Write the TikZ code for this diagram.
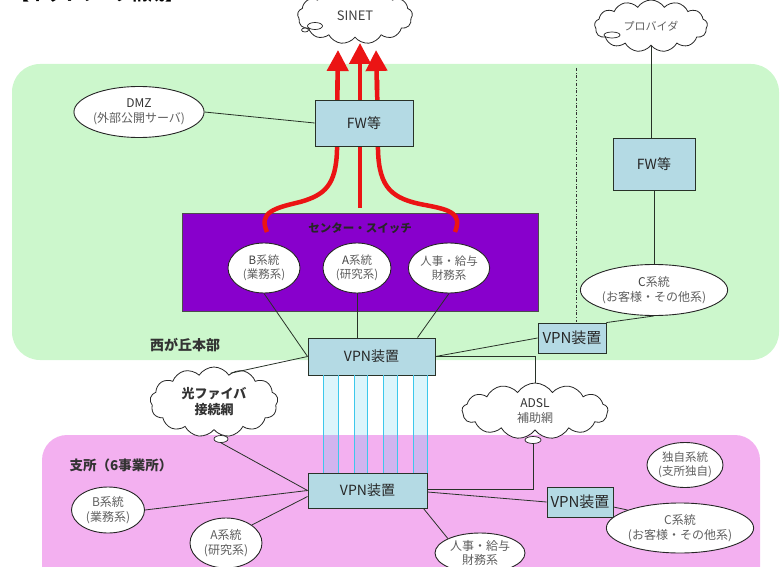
\documentclass[tikz,border=0pt]{standalone}
\usepackage{fontspec}
\setmainfont{Noto Sans CJK JP}
\usetikzlibrary{shapes.geometric,shapes.symbols,arrows.meta,calc}
\definecolor{greenbg}{RGB}{204,247,204}
\definecolor{pinkbg}{RGB}{243,176,240}
\definecolor{purp}{RGB}{136,0,204}
\definecolor{boxblue}{RGB}{180,218,228}
\definecolor{cyanl}{RGB}{60,200,235}
\definecolor{txtgray}{RGB}{95,95,95}
\definecolor{lnc}{RGB}{40,50,40}
\definecolor{redarr}{RGB}{235,20,20}
\begin{document}
\begin{tikzpicture}[x=1pt,y=-1pt,
  sys/.style={ellipse, draw=black!85, fill=white, line width=0.9pt, inner sep=0pt,
    text=txtgray, font=\fontsize{12}{14.5}\selectfont, align=center},
  swsys/.style={sys, font=\fontsize{11.5}{14}\selectfont},
  dev/.style={rectangle, draw=lnc, fill=boxblue, line width=0.9pt, inner sep=0pt,
    text=black!85, font=\fontsize{14}{16}\selectfont},
  cloudn/.style={cloud, cloud puffs=13, cloud puff arc=115, cloud ignores aspect,
    draw=black!85, fill=white, line width=0.8pt, inner sep=0pt, align=center},
  tailn/.style={ellipse, draw=black!85, fill=white, line width=0.7pt, inner sep=0pt},
  conn/.style={draw=lnc, line width=0.8pt},
  redline/.style={draw=redarr, line width=4.5pt},
  redarrow/.style={redline, -{Triangle[width=21pt,length=21pt]}},
  bluelink/.style={draw=cyanl, line width=0.8pt},
  region/.style={font=\fontsize{14}{16}\selectfont\bfseries, text=black!80}
]
\useasboundingbox (0,0) rectangle (781,567);

% regions
\fill[greenbg, rounded corners=28pt] (12,64) rectangle (779,360);
\fill[pinkbg, rounded corners=25pt] (42,435) rectangle (760,600);

% title (cut off at top, as in the reference)
\node[anchor=base west, inner sep=0pt, font=\fontsize{17}{20}\selectfont\bfseries] (title) at (12,1) {【ネットワーク構成】};

% clouds
\node[cloudn, minimum width=115pt, minimum height=56pt, font=\fontsize{13}{15}\selectfont, text=black!75] (sinet) at (355,16) {SINET};
\node[tailn, minimum width=15pt, minimum height=7pt] (stail) at (315,26) {};
\node[tailn, minimum width=7pt, minimum height=4pt] (stail2) at (305,30) {};

\node[cloudn, minimum width=113pt, minimum height=52pt, font=\fontsize{11}{13}\selectfont, text=txtgray] (prov) at (651,26) {プロバイダ};
\node[tailn, minimum width=16pt, minimum height=6pt] (ptail) at (612,35) {};

\node[cloudn, minimum width=128pt, minimum height=70pt, font=\fontsize{13}{16}\selectfont\bfseries, text=black!80] (fiber) at (214,402) {光ファイバ\\接続網};
\node[tailn, minimum width=14pt, minimum height=7pt] (ftail) at (221,439) {};

\node[cloudn, minimum width=146pt, minimum height=56pt, font=\fontsize{12}{15}\selectfont, text=black!80] (adsl) at (535,411) {ADSL\\{\color{txtgray}補助網}};
\node[tailn, minimum width=16pt, minimum height=7pt] (atail) at (533,440) {};

% center switch
\node[rectangle, draw=black!70, fill=purp, line width=0.8pt, minimum width=356pt, minimum height=98pt] (sw) at (360,262) {};
\node[font=\fontsize{11.5}{13}\selectfont\bfseries, text=black!85] (swl) at (360,228) {センター・スイッチ};

% red arrows
\coordinate (rl0) at (267,232);
\coordinate (rl1) at (338,50);
\coordinate (rm0) at (360,208);
\coordinate (rm1) at (360,43);
\coordinate (rr0) at (455,232);
\coordinate (rr1) at (376,50);
\draw[redline] (rl0) .. controls (258,212) and (275,208) .. (300,202) .. controls (325,195) and (336,185) .. (337,150) -- (337.5,80);
\draw[redline] (rr0) .. controls (462,214) and (452,210) .. (425,205) .. controls (392,199) and (379,188) .. (378,150) -- (377,80);
\draw[redarrow] (337.5,90) -- (rl1);
\draw[redarrow] (377,90) -- (rr1);
\draw[redarrow] (rm0) -- (rm1);

% devices
\node[dev, minimum width=98pt, minimum height=46pt, font=\fontsize{14}{16}\selectfont] (fw1) at (364,123) {FW等};
\node[dev, minimum width=82pt, minimum height=52pt, font=\fontsize{14}{16}\selectfont] (fw2) at (654,164) {FW等};
\node[dev, minimum width=127pt, minimum height=37pt] (vpn1) at (371.5,356.5) {VPN装置};
\node[dev, minimum width=119pt, minimum height=35pt] (vpn2) at (367.5,490.5) {VPN装置};
\node[dev, minimum width=68pt, minimum height=30pt, font=\fontsize{15}{16}\selectfont] (vpns1) at (572,338) {VPN装置};
\node[dev, minimum width=66pt, minimum height=30pt, font=\fontsize{15}{16}\selectfont] (vpns2) at (580,502) {VPN装置};

% systems
\node[sys, minimum width=122pt, minimum height=51pt] (dmz) at (139,112) {{\color{black!80}DMZ}\\(外部公開サーバ)};
\node[swsys, minimum width=72pt, minimum height=50pt] (bsw) at (264,268) {{\color{black!75}B}系統\\(業務系)};
\node[swsys, minimum width=68pt, minimum height=50pt] (asw) at (357,268) {{\color{black!75}A}系統\\(研究系)};
\node[swsys, minimum width=72pt, minimum height=50pt] (jsw) at (449,268) {人事・給与\\財務系};
\node[sys, minimum width=128pt, minimum height=51pt] (cup) at (654,290) {{\color{black!75}C}系統\\(お客様・その他系)};
\node[sys, minimum width=73pt, minimum height=46pt] (blo) at (108,510) {B系統\\(業務系)};
\node[sys, minimum width=72pt, minimum height=50pt] (alo) at (226,543) {A系統\\(研究系)};
\node[sys, minimum width=90pt, minimum height=40pt] (jlo) at (480,553) {人事・給与\\財務系};
\node[sys, minimum width=66pt, minimum height=45pt, font=\fontsize{11.5}{14}\selectfont] (dok) at (685,465) {独自系統\\(支所独自)};
\node[sys, minimum width=120pt, minimum height=50pt] (clo) at (680,528) {C系統\\(お客様・その他系)};

% region labels
\node[region] (hq) at (185,345) {西が丘本部};
\node[region, font=\fontsize{13.5}{16}\selectfont\bfseries] (br) at (121,465) {支所（6事業所）};

% dash-dot separator
\draw[dash dot, line width=0.8pt, black!80] (576,68) -- (576,322);

% connectors
\draw[conn] (dmz.east) -- (fw1.west);
\draw[conn] (prov.south) -- (prov.south |- fw2.north);
\draw[conn] (fw2.south) -- (fw2.south |- cup.north);
\draw[conn] (bsw.south) -- (vpn1.west);
\draw[conn] (asw.south) -- (asw.south |- vpn1.north);
\draw[conn] (jsw.south) -- ($(vpn1.north)!0.72!(vpn1.north east)$);
\draw[conn] (vpns1.north east) -- (cup.south);
\draw[conn] (vpn1.east) -- (vpns1.west);
\draw[conn] (vpn1.east) -| (adsl.north);
\draw[conn] (vpn1.west) -- (fiber.60);
\draw[conn] (ftail.south) -- (vpn2.west);
\draw[conn] (blo.east) -- (vpn2.west);
\draw[conn] (alo.north east) -- ([yshift=-6pt]vpn2.west);
\draw[conn] (atail.south) |- ([yshift=1.5pt]vpn2.east);
\draw[conn] ([yshift=-1.5pt]vpn2.east) -- (vpns2.west);
\draw[conn] ([yshift=-5pt]vpns2.east) -- (clo.north west);
\draw[conn] ([xshift=-4pt]vpn2.south east) -- (jlo.north west);

% VPN bundle between main VPN devices
\foreach \xa/\xb in {323/338,354/367,383/397,413/427}{
  \fill[cyanl, opacity=0.18] (\xa,0 |- vpn1.south) rectangle (\xb,0 |- vpn2.north);
  \draw[bluelink] (\xa,0 |- vpn1.south) -- (\xa,0 |- vpn2.north);
  \draw[bluelink] (\xb,0 |- vpn1.south) -- (\xb,0 |- vpn2.north);
}
\end{tikzpicture}
\end{document}
